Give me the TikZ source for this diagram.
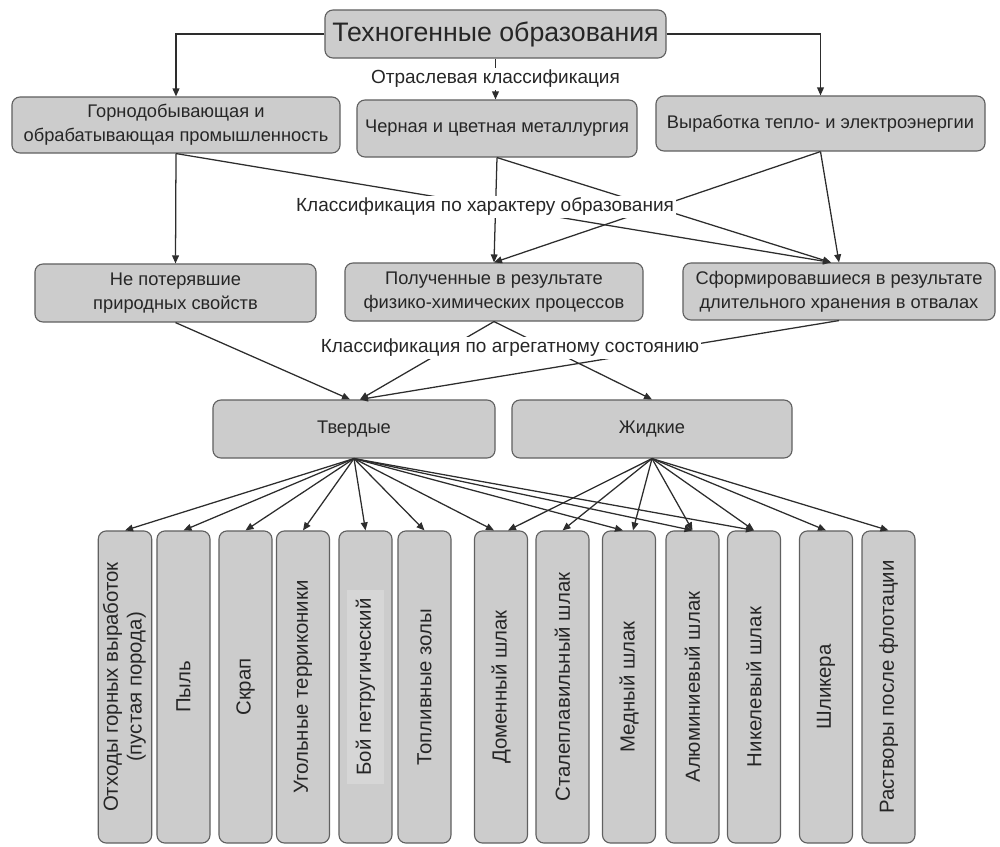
\documentclass[tikz,border=0pt]{standalone}
\usepackage{fontspec}
\setmainfont{Liberation Sans}
\usetikzlibrary{arrows.meta,calc}
\definecolor{boxgray}{RGB}{204,204,204}
\definecolor{boxlight}{RGB}{214,214,214}
\definecolor{boxline}{RGB}{96,96,96}
\definecolor{arrline}{RGB}{45,45,45}
\begin{document}
\begin{tikzpicture}[x=0.025cm,y=-0.025cm,
	box/.style={ draw=boxline, fill=boxgray, rounded corners=2mm, line width=0.8pt, align=center, inner sep=2pt, text=black!85, font=\fontsize{13}{17}\selectfont },
	vbox/.style={ box, minimum width=1.325cm, minimum height=7.8cm, font=\fontsize{14.5}{17}\selectfont },
	lbl/.style={ fill=white, inner sep=1.5pt, text=black!85, font=\fontsize{13.5}{17}\selectfont },
	arr/.style={ draw=arrline, line width=0.9pt, -{Triangle[length=2mm,width=1.7mm]} }
]
\useasboundingbox (0,0) rectangle (1000,847);

\node at (495.5,34) (root) [box, minimum width=8.525cm, minimum height=1.2cm, font=\fontsize{19}{22}\selectfont] {Техногенные образования};

\node at (176,125) (mining) [box, minimum width=8.2cm, minimum height=1.4cm] {Горнодобывающая и\\обрабатывающая промышленность};
\node at (497,128.5) (metal) [box, minimum width=7cm, minimum height=1.425cm] {Черная и цветная металлургия};
\node at (820.5,123.5) (energy) [box, minimum width=8.225cm, minimum height=1.375cm] {Выработка тепло- и электроэнергии};

\node at (175.5,293) (natural) [box, minimum width=7.025cm, minimum height=1.45cm] {Не потерявшие\\природных свойств};
\node at (494,292) (physchem) [box, minimum width=7.45cm, minimum height=1.45cm] {Полученные в результате\\физико-химических процессов};
\node at (839,291.5) (dumps) [box, minimum width=7.8cm, minimum height=1.425cm] {Сформировавшиеся в результате\\длительного хранения в отвалах};

\node at (354,429) (solid) [box, minimum width=7.05cm, minimum height=1.45cm] {Твердые};
\node at (652,429) (liquid) [box, minimum width=7cm, minimum height=1.45cm] {Жидкие};

\node at (125,687) (waste) [vbox] {\rotatebox{90}{\begin{tabular}{@{}c@{}}Отходы горных выработок\\(пустая порода)\end{tabular}}};
\node at (183.5,687) (dust) [vbox] {\rotatebox{90}{Пыль}};
\node at (245.5,687) (scrap) [vbox] {\rotatebox{90}{Скрап}};
\node at (303,687) (heaps) [vbox] {\rotatebox{90}{Угольные терриконики}};
\node at (365.5,687) (petro) [vbox] {\setlength{\fboxsep}{6pt}\colorbox{boxlight}{\rotatebox{90}{Бой петругический}}};
\node at (424.5,687) (ash) [vbox] {\rotatebox{90}{Топливные золы}};
\node at (501,687) (blast) [vbox] {\rotatebox{90}{Доменный шлак}};
\node at (562.5,687) (steel) [vbox] {\rotatebox{90}{Сталеплавильный шлак}};
\node at (629,687) (copper) [vbox] {\rotatebox{90}{Медный шлак}};
\node at (692.5,687) (alum) [vbox] {\rotatebox{90}{Алюминиевый шлак}};
\node at (754,687) (nickel) [vbox] {\rotatebox{90}{Никелевый шлак}};
\node at (826,687) (slurry) [vbox] {\rotatebox{90}{Шликера}};
\node at (888.5,687) (flot) [vbox] {\rotatebox{90}{Растворы после флотации}};

\draw [arr] (root.west) -| (mining.north);
\draw [arr] (root.east) -| (energy.north);
\draw [arr] (root.south) -- node[lbl] {Отраслевая классификация} (root.south |- metal.north);

\draw [arr] (mining.south) -- (natural.north);
\draw [arr] (mining.south) -- ($(dumps.north)+(-8,0)$);
\draw [arr] (metal.south) -- (physchem.north);
\draw [arr] (metal.south) -- ($(dumps.north)+(-8,0)$);
\draw [arr] (energy.south) -- (physchem.north);
\draw [arr] (energy.south) -- (dumps.north);
\node at (485,207) (charlbl) [lbl] {Классификация по характеру образования};

\draw [arr] (natural.south) -- ($(solid.north)+(-4,0)$);
\draw [arr] (physchem.south) -- ($(solid.north)+(6,0)$);
\draw [arr] (dumps.south) -- ($(solid.north)+(6,0)$);
\draw [arr] (physchem.south) -- (liquid.north);
\node at (510,348) (agglbl) [lbl] {Классификация по агрегатному состоянию};

\draw [arr] (solid.south) -- (waste.north);
\draw [arr] (solid.south) -- (dust.north);
\draw [arr] (solid.south) -- (scrap.north);
\draw [arr] (solid.south) -- (heaps.north);
\draw [arr] (solid.south) -- (petro.north);
\draw [arr] (solid.south) -- (ash.north);
\draw [arr] (solid.south) -- ($(blast.north)+(-7,0)$);
\draw [arr] (solid.south) -- ($(copper.north)+(-6,0)$);
\draw [arr] (solid.south) -- (alum.north);
\draw [arr] (solid.south) -- (nickel.north);

\draw [arr] (liquid.south) -- ($(blast.north)+(7,0)$);
\draw [arr] (liquid.south) -- (steel.north);
\draw [arr] (liquid.south) -- ($(copper.north)+(4,0)$);
\draw [arr] (liquid.south) -- (alum.north);
\draw [arr] (liquid.south) -- (nickel.north);
\draw [arr] (liquid.south) -- (slurry.north);
\draw [arr] (liquid.south) -- (flot.north);

\end{tikzpicture}
\end{document}
